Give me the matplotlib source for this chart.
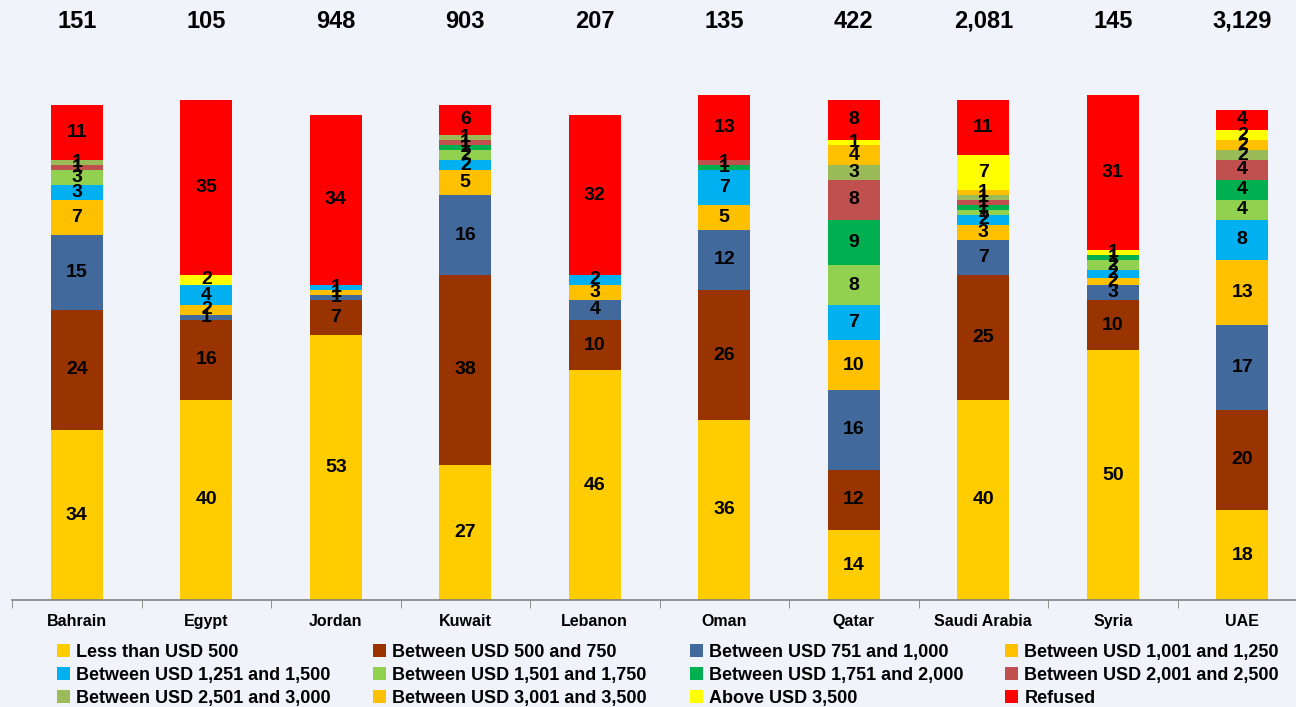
import matplotlib
matplotlib.use("Agg")
import matplotlib.pyplot as plt
import numpy as np

plt.rcParams["font.family"] = ["Liberation Sans", "DejaVu Sans"]

# Data
countries = ["Bahrain", "Egypt", "Jordan", "Kuwait", "Lebanon",
             "Oman", "Qatar", "Saudi Arabia", "Syria", "UAE"]
totals = ["151", "105", "948", "903", "207", "135", "422", "2,081", "145", "3,129"]

categories = ["Less than USD 500", "Between USD 500 and 750", "Between USD 751 and 1,000",
              "Between USD 1,001 and 1,250", "Between USD 1,251 and 1,500",
              "Between USD 1,501 and 1,750", "Between USD 1,751 and 2,000",
              "Between USD 2,001 and 2,500", "Between USD 2,501 and 3,000",
              "Between USD 3,001 and 3,500", "Above USD 3,500", "Refused"]
colors = ["#FFCC00", "#993300", "#41699C", "#FFC000", "#00B0F0", "#92D050",
          "#00B050", "#C0504D", "#9BBB59", "#FFC000", "#FFFF00", "#FF0000"]

# one list per category, values per country (in country order)
less_500   = [34, 40, 53, 27, 46, 36, 14, 40, 50, 18]
b500_750   = [24, 16, 7, 38, 10, 26, 12, 25, 10, 20]
b751_1000  = [15, 1, 1, 16, 4, 12, 16, 7, 3, 17]
b1001_1250 = [7, 2, 1, 5, 3, 5, 10, 3, 1.5, 13]
b1251_1500 = [3, 4, 1, 2, 2, 7, 7, 2, 1.5, 8]
b1501_1750 = [3, 0, 0, 2, 0, 0, 8, 1, 2, 4]
b1751_2000 = [0, 0, 0, 1, 0, 1, 9, 1, 1, 4]
b2001_2500 = [1, 0, 0, 1, 0, 1, 8, 1, 0, 4]
b2501_3000 = [1, 0, 0, 1, 0, 0, 3, 1, 0, 2]
b3001_3500 = [0, 0, 0, 0, 0, 0, 4, 1, 0, 2]
above_3500 = [0, 2, 0, 0, 0, 0, 1, 7, 1, 2]
refused    = [11, 35, 34, 6, 32, 13, 8, 11, 31, 4]

series = [less_500, b500_750, b751_1000, b1001_1250, b1251_1500, b1501_1750,
          b1751_2000, b2001_2500, b2501_3000, b3001_3500, above_3500, refused]

bg = "#F0F3FA"
fig = plt.figure(figsize=(12.96, 7.07), dpi=100, facecolor=bg)
ax = fig.add_axes([12 / 1296, 1 - 600 / 707, 1295 / 1296, 600 / 707])
ax.set_facecolor("none")

x = np.arange(len(countries))
bottom = np.zeros(len(countries))
handles = []
for name, vals, col in zip(categories, series, colors):
    vals = np.array(vals, dtype=float)
    bars = ax.bar(x, vals, 0.4, bottom=bottom, color=col, label=name)
    labels = [f"{v:.0f}" if v > 0 else "" for v in vals]
    ax.bar_label(bars, labels=labels, label_type="center",
                 fontsize=14, fontweight="bold", color="black")
    handles.append(bars)
    bottom += vals

for xi, t in zip(x, totals):
    ax.text(xi, 115.8, t, ha="center", va="center", fontsize=17,
            fontweight="bold", color="black")

ax.set_xlim(-0.5, 9.5)
ax.set_ylim(0, 120)
ax.set_yticks([])
for s in ["top", "right", "left"]:
    ax.spines[s].set_visible(False)
ax.spines["bottom"].set_color("#808080")
ax.spines["bottom"].set_linewidth(1.2)
ax.set_xticks(x)
ax.set_xticklabels(countries, fontsize=11.5, fontweight="bold")
ax.tick_params(axis="x", which="major", length=0, pad=10)
ax.set_xticks(np.arange(-0.5, 10, 1), minor=True)
ax.tick_params(axis="x", which="minor", length=6, color="#808080", direction="out")

# legend: 4 columns placed separately, filled row by row
col_x = [57, 373, 690, 1005]
for c, cx in enumerate(col_x):
    idx = [c, c + 4, c + 8]
    leg = fig.legend([handles[i] for i in idx], [categories[i] for i in idx],
                     loc="upper left", bbox_to_anchor=(cx / 1296, 1 - 644 / 707),
                     frameon=False, borderpad=0, borderaxespad=0,
                     handlelength=0.72, handleheight=0.72, handletextpad=0.35,
                     labelspacing=0.33, prop={"size": 13, "weight": "bold"})

fig.savefig("out.png", dpi=100, facecolor=bg)
